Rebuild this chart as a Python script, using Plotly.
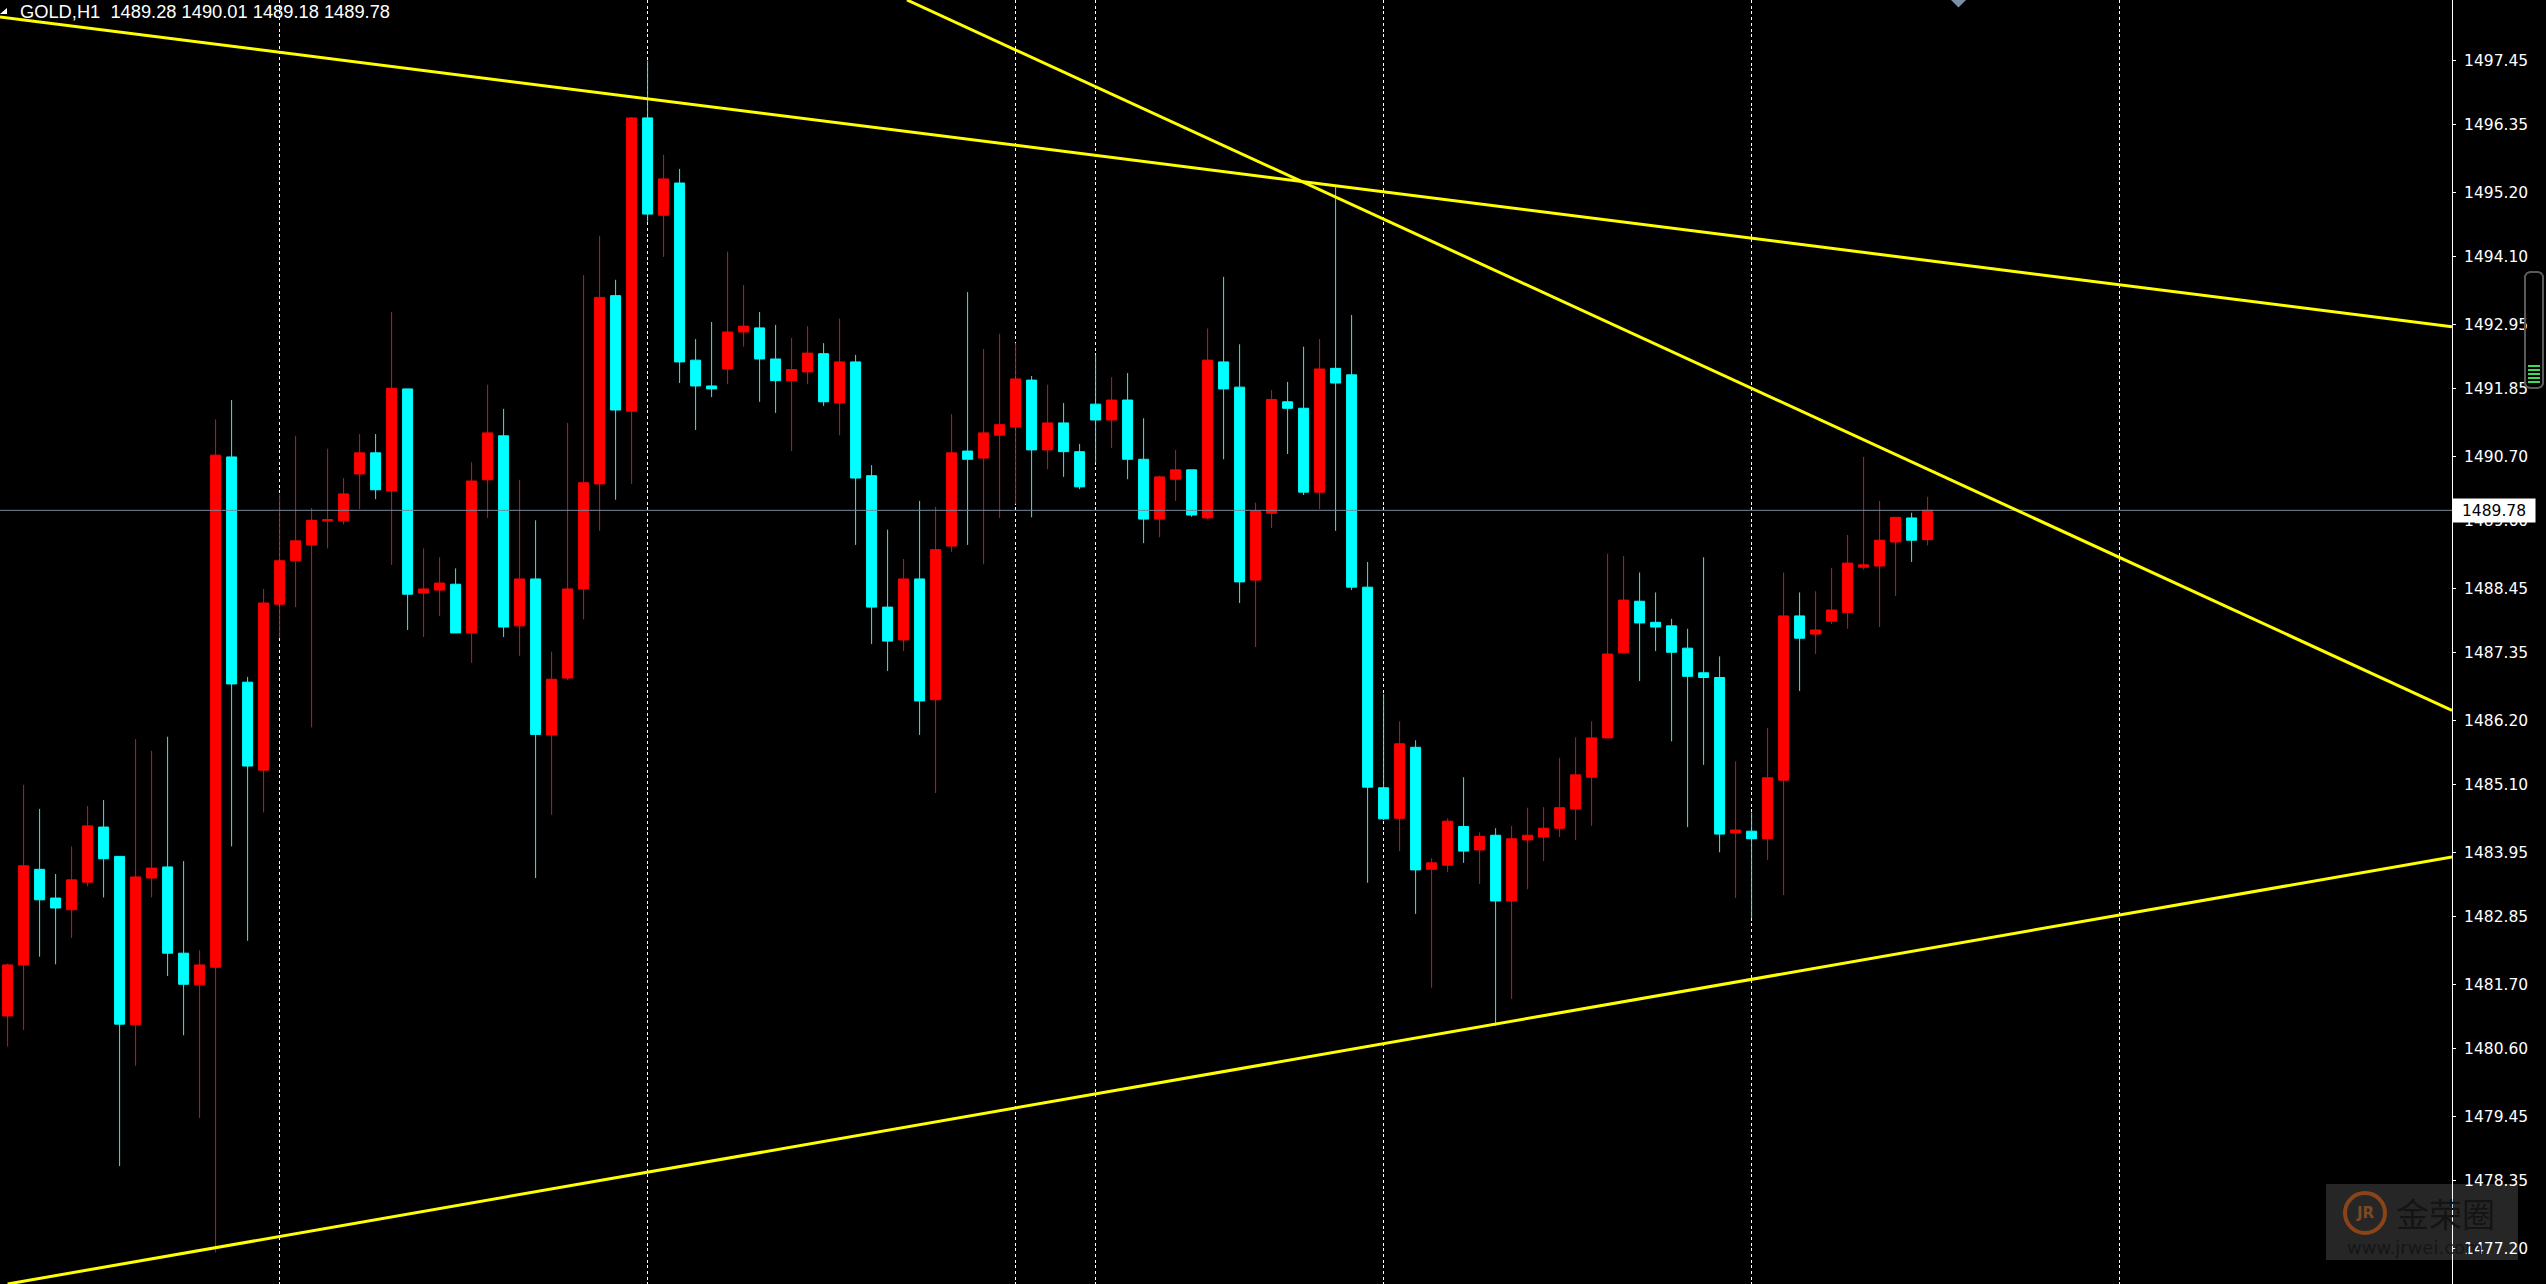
"""
GOLD H1 chart, MT4 style, rebuilt with Plotly
"""
import plotly.graph_objects as go

W, H = 2546, 1284
AXIS_PX = 2452  # price axis sits here, the strip to the right holds the labels

# ========== data ==========
open_prices = [
    1481.16, 1482.03, 1483.66, 1483.17, 1482.97, 1483.44, 1484.38, 1483.88, 1481.01, 1483.51, 1483.70,
    1482.23, 1481.69, 1481.99, 1490.69, 1486.85, 1485.35, 1488.18, 1488.92, 1489.19, 1489.60, 1489.60,
    1490.40, 1490.76, 1490.11, 1491.85, 1488.37, 1488.42, 1488.52, 1487.69, 1490.30, 1491.05, 1487.81,
    1488.61, 1485.95, 1486.92, 1488.44, 1490.23, 1493.44, 1491.47, 1496.47, 1494.81, 1495.36, 1492.34,
    1491.90, 1492.19, 1492.82, 1492.89, 1492.36, 1491.99, 1492.14, 1492.45, 1491.61, 1492.31, 1490.37,
    1488.13, 1487.57, 1488.61, 1486.55, 1489.17, 1490.79, 1490.67, 1491.06, 1491.20, 1492.00, 1490.81,
    1491.27, 1490.78, 1491.59, 1491.32, 1491.66, 1490.65, 1489.63, 1490.31, 1490.47, 1489.65, 1492.31,
    1491.88, 1488.59, 1489.73, 1491.63, 1491.52, 1490.09, 1492.20, 1492.09, 1488.47, 1485.05, 1484.53,
    1485.74, 1483.66, 1483.73, 1484.39, 1483.99, 1484.24, 1483.12, 1484.16, 1484.21, 1484.36, 1484.69,
    1485.23, 1485.90, 1487.35, 1488.23, 1487.87, 1487.81, 1487.43, 1487.01, 1486.93, 1484.28, 1484.31,
    1484.18, 1485.18, 1487.98, 1487.67, 1487.89, 1488.04, 1488.81, 1488.83, 1489.24, 1489.65, 1489.28,
]
high_prices = [
    1482.05, 1485.10, 1484.69, 1483.58, 1484.05, 1484.74, 1484.84, 1483.88, 1485.88, 1485.68, 1485.92,
    1483.80, 1482.28, 1491.33, 1491.66, 1486.94, 1488.44, 1490.06, 1491.05, 1489.82, 1490.83, 1490.33,
    1491.08, 1491.08, 1493.16, 1491.85, 1489.13, 1488.98, 1488.79, 1490.60, 1491.92, 1491.51, 1490.30,
    1489.61, 1487.37, 1491.27, 1493.79, 1494.46, 1493.71, 1496.48, 1497.45, 1495.84, 1495.60, 1492.70,
    1492.99, 1494.19, 1493.62, 1493.16, 1492.94, 1492.72, 1492.92, 1492.63, 1493.05, 1492.43, 1490.55,
    1489.45, 1488.95, 1489.94, 1489.84, 1491.42, 1493.50, 1492.53, 1492.79, 1492.63, 1492.07, 1491.92,
    1491.61, 1490.91, 1492.43, 1492.05, 1492.12, 1491.35, 1490.37, 1490.81, 1490.47, 1492.88, 1493.76,
    1492.61, 1489.91, 1491.83, 1491.97, 1492.57, 1492.70, 1495.29, 1493.11, 1488.90, 1486.65, 1486.18,
    1485.86, 1483.85, 1484.53, 1485.23, 1484.29, 1484.36, 1484.40, 1484.71, 1484.72, 1485.56, 1485.91,
    1486.18, 1489.04, 1489.00, 1488.72, 1488.38, 1487.93, 1487.76, 1488.98, 1487.29, 1485.50, 1484.63,
    1486.07, 1488.72, 1488.38, 1488.40, 1488.80, 1489.36, 1490.69, 1489.94, 1489.66, 1489.74, 1490.01,
]
low_prices = [
    1480.64, 1480.92, 1482.17, 1482.04, 1482.49, 1483.37, 1483.18, 1478.60, 1480.31, 1483.18, 1481.84,
    1480.83, 1479.42, 1477.13, 1484.05, 1482.44, 1484.63, 1487.60, 1488.13, 1486.08, 1489.13, 1489.54,
    1489.80, 1489.97, 1488.85, 1487.74, 1487.62, 1487.98, 1487.69, 1487.18, 1489.65, 1487.62, 1487.30,
    1483.51, 1484.59, 1486.89, 1487.92, 1489.43, 1489.96, 1490.23, 1494.70, 1494.10, 1491.95, 1491.15,
    1491.71, 1491.93, 1492.57, 1491.63, 1491.44, 1490.79, 1491.93, 1491.56, 1491.06, 1489.19, 1487.50,
    1487.04, 1487.38, 1485.95, 1484.96, 1489.07, 1489.19, 1488.86, 1489.65, 1489.89, 1489.66, 1490.48,
    1490.35, 1490.14, 1490.59, 1490.84, 1490.31, 1489.22, 1489.32, 1489.94, 1489.67, 1489.63, 1490.65,
    1488.20, 1487.45, 1489.48, 1490.74, 1490.04, 1489.80, 1489.43, 1488.42, 1483.43, 1484.50, 1483.97,
    1482.90, 1481.64, 1483.61, 1483.77, 1483.41, 1480.99, 1481.45, 1483.32, 1483.80, 1484.21, 1484.16,
    1484.40, 1485.90, 1487.35, 1486.87, 1487.38, 1485.84, 1484.38, 1485.44, 1483.95, 1483.17, 1482.83,
    1483.82, 1483.22, 1486.70, 1487.33, 1487.84, 1487.76, 1488.77, 1487.79, 1488.32, 1488.90, 1489.18,
]
close_prices = [
    1482.03, 1483.72, 1483.14, 1483.00, 1483.48, 1484.40, 1483.84, 1481.02, 1483.53, 1483.68, 1482.23,
    1481.70, 1482.03, 1490.72, 1486.82, 1485.42, 1488.20, 1488.92, 1489.26, 1489.61, 1489.62, 1490.06,
    1490.76, 1490.13, 1491.86, 1488.35, 1488.44, 1488.54, 1487.69, 1490.28, 1491.10, 1487.79, 1488.61,
    1485.96, 1486.90, 1488.44, 1490.25, 1493.41, 1491.49, 1496.47, 1494.83, 1495.43, 1492.31, 1491.90,
    1491.85, 1492.82, 1492.92, 1492.36, 1491.99, 1492.18, 1492.46, 1491.63, 1492.31, 1490.33, 1488.13,
    1487.55, 1488.61, 1486.53, 1489.11, 1490.76, 1490.65, 1491.10, 1491.24, 1492.02, 1490.81, 1491.27,
    1490.78, 1490.18, 1491.32, 1491.66, 1490.65, 1489.63, 1490.35, 1490.47, 1489.70, 1492.34, 1491.85,
    1488.56, 1489.77, 1491.67, 1491.52, 1490.09, 1492.19, 1491.95, 1488.47, 1485.06, 1484.52, 1485.80,
    1483.65, 1483.77, 1484.48, 1483.97, 1484.22, 1483.12, 1484.18, 1484.24, 1484.36, 1484.71, 1485.27,
    1485.90, 1487.33, 1488.25, 1487.86, 1487.79, 1487.36, 1486.95, 1486.93, 1484.26, 1484.33, 1484.18,
    1485.22, 1487.98, 1487.60, 1487.74, 1488.08, 1488.88, 1488.85, 1489.27, 1489.66, 1489.27, 1489.78,
]
bar_index = list(range(len(open_prices)))

price_ticks = [
    1497.45, 1496.35, 1495.20, 1494.10, 1492.95, 1491.85, 1490.70, 1489.60, 1488.45, 1487.35,
    1486.20, 1485.10, 1483.95, 1482.85, 1481.70, 1480.60, 1479.45, 1478.35, 1477.20,
]
price_tick_labels = [f"{p:.2f}" for p in price_ticks]
period_bars = [17, 40, 63, 68, 86, 109, 132]  # dashed vertical separators

last_price = 1489.78
x_range = [-0.475, 152.775]
y_range = [1476.59, 1498.48]

# trend lines, two anchor points each (bar, price)
upper_line_x, upper_line_y = [-0.475, 152.775], [1498.19, 1492.91]
steep_line_x, steep_line_y = [56.21, 152.775], [1498.48, 1486.37]
lower_line_x, lower_line_y = [0, 152.775], [1476.59, 1483.87]


def px(x):
    return x / W


def py(y):
    return 1 - y / H


fig = go.Figure()

# ========== last price line, behind the candles ==========
fig.add_trace(go.Scatter(
    x=x_range, y=[last_price, last_price], mode='lines',
    line=dict(color='#778899', width=1), hoverinfo='skip', showlegend=False,
))

# ========== candles ==========
fig.add_trace(go.Candlestick(
    x=bar_index, open=open_prices, high=high_prices, low=low_prices, close=close_prices,
    increasing=dict(line=dict(color='#FF0000', width=1), fillcolor='#FF0000'),
    decreasing=dict(line=dict(color='#00FFFF', width=1), fillcolor='#00FFFF'),
    whiskerwidth=0, hoverinfo='skip', showlegend=False,
))

# ========== trend lines ==========
for lx, ly in [(upper_line_x, upper_line_y), (steep_line_x, steep_line_y), (lower_line_x, lower_line_y)]:
    fig.add_trace(go.Scatter(
        x=lx, y=ly, mode='lines', line=dict(color='#FFFF00', width=3),
        hoverinfo='skip', showlegend=False,
    ))

# ========== furniture drawn in pixels ==========
shapes = []


def add_path(points, fill, line_color=None, line_width=0):
    path = 'M ' + ' L '.join(f'{px(a):.5f},{py(b):.5f}' for a, b in points) + ' Z'
    shapes.append(dict(
        type='path', xref='paper', yref='paper', path=path, fillcolor=fill,
        line=dict(color=line_color or fill, width=line_width), layer='above',
    ))


# small arrow top left, marker top centre
add_path([(0, 14), (7, 8), (7, 14)], '#FFFFFF')
add_path([(1951, 0), (1966, 0), (1958.5, 7.5)], '#7A90A8')

# scroll widget at the right edge, rounded ends
add_path(
    [(2525, 276), (2527, 273), (2530, 272), (2538, 272), (2541, 273), (2543, 276),
     (2543, 384), (2541, 387), (2538, 388), (2530, 388), (2527, 387), (2525, 384)],
    'rgba(0,0,0,0)', '#5A5A5A', 2,
)
for sy in [366, 370, 374, 378, 382]:
    shapes.append(dict(
        type='line', xref='paper', yref='paper', x0=px(2528), x1=px(2540), y0=py(sy), y1=py(sy),
        line=dict(color='#3CDC5A', width=2), layer='above',
    ))

# watermark panel and logo ring
shapes.append(dict(
    type='rect', xref='paper', yref='paper', x0=px(2326), x1=px(2518), y0=py(1260), y1=py(1184),
    fillcolor='rgba(255,255,255,0.15)', line=dict(width=0), layer='above',
))
shapes.append(dict(
    type='circle', xref='paper', yref='paper', x0=px(2345), x1=px(2385), y0=py(1233), y1=py(1193),
    fillcolor='rgba(0,0,0,0)', line=dict(color='#8A4418', width=4), layer='above',
))

# ========== texts ==========
annotations = [
    dict(text='GOLD,H1\u00a0\u00a01489.28\u00a01490.01\u00a01489.18\u00a01489.78',
         x=px(18), y=py(11), xanchor='left', yanchor='middle',
         font=dict(color='white', size=18.3, family='Liberation Sans')),
    dict(text='1489.78', x=px(2494), y=py(510.5), xanchor='center', yanchor='middle',
         font=dict(color='black', size=15.5, family='DejaVu Sans'), bgcolor='white',
         width=80, height=21, borderpad=1),
    dict(text='<b>JR</b>', x=px(2365), y=py(1213), xanchor='center', yanchor='middle',
         font=dict(color='#7A4A24', size=15, family='DejaVu Sans')),
    dict(text='金荣圈', x=px(2445), y=py(1213), xanchor='center', yanchor='middle',
         font=dict(color='#141414', size=33, family='Noto Sans CJK SC')),
    dict(text='www.jrwei.com', x=px(2345), y=py(1247), xanchor='left', yanchor='middle',
         font=dict(color='#161616', size=18, family='DejaVu Sans')),
]
for a in annotations:
    a.update(xref='paper', yref='paper', showarrow=False)

# ========== layout ==========
fig.update_layout(
    width=W, height=H,
    margin=dict(l=0, r=0, t=0, b=0),
    paper_bgcolor='black', plot_bgcolor='black',
    showlegend=False, dragmode=False, hovermode=False,
    boxgap=0.375, boxgroupgap=0,
    shapes=shapes, annotations=annotations,
    xaxis=dict(
        domain=[0, AXIS_PX / W], range=x_range, rangeslider=dict(visible=False),
        tickmode='array', tickvals=period_bars, showticklabels=False, ticks='',
        showgrid=True, gridcolor='white', gridwidth=1, griddash='3px,2.7px',
        zeroline=False, showline=False,
    ),
    yaxis=dict(
        range=y_range, side='right', anchor='x',
        tickmode='array', tickvals=price_ticks, ticktext=price_tick_labels,
        ticks='outside', ticklen=3, tickcolor='white', tickwidth=1,
        tickfont=dict(color='white', size=15.5, family='DejaVu Sans'),
        ticklabelstandoff=5,
        showgrid=False, zeroline=False, showline=True, linecolor='white', linewidth=1,
    ),
)

fig.write_html(
    "out.html",
    config=dict(displayModeBar=False),
    post_script="document.body.style.margin='0';document.body.style.overflow='hidden';",
)
